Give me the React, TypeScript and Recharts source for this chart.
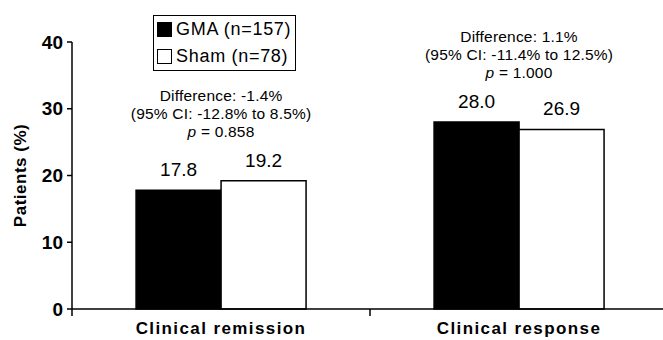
import { BarChart, Bar, XAxis, YAxis, Legend, LabelList } from "recharts";

const categories = ["Clinical remission", "Clinical response"];
const gmaValues = [17.8, 28.0];
const shamValues = [19.2, 26.9];
const diffLines = ["Difference: -1.4%", "Difference: 1.1%"];
const ciLines = ["(95% CI: -12.8% to 8.5%)", "(95% CI: -11.4% to 12.5%)"];
const pValues = ["0.858", "1.000"];
const yTicks = [0, 10, 20, 30, 40];
const seriesNames = ["GMA (n=157)", "Sham (n=78)"];

const FONT = "'Liberation Sans', Arial, sans-serif";

const data = categories.map((c, i) => ({
  name: c,
  gma: gmaValues[i],
  sham: shamValues[i],
}));

function CategoryTick(props: any) {
  const { x, y, payload, width, visibleTicksCount, index } = props;
  const half = width / visibleTicksCount / 2;
  const axisY = y - 12;
  return (
    <g>
      <line x1={x - half} x2={x - half} y1={axisY} y2={axisY + 7} stroke="#000" strokeWidth={1.5} />
      {index === visibleTicksCount - 1 && (
        <line x1={x + half} x2={x + half} y1={axisY} y2={axisY + 7} stroke="#000" strokeWidth={1.5} />
      )}
      <text
        x={x}
        y={y}
        dy="0.75em"
        textAnchor="middle"
        fontFamily={FONT}
        fontSize={17}
        fontWeight="bold"
        letterSpacing={1.4}
        fill="#000"
      >
        {payload.value}
      </text>
    </g>
  );
}

// stats text above each pair of bars, anchored on the taller bar
function Annotation(props: any) {
  const { x, y, width, height, value } = props;
  const i = props.index ?? gmaValues.indexOf(value);
  const v = gmaValues[i];
  const top = Math.max(gmaValues[i], shamValues[i]);
  const base = y + height - (top * height) / v;
  const cx = x + width;
  const common = {
    x: cx,
    textAnchor: "middle" as const,
    fontFamily: FONT,
    fontSize: 15.5,
    letterSpacing: 0.2,
    fill: "#000",
  };
  return (
    <g>
      <text {...common} y={base - 80}>{diffLines[i]}</text>
      <text {...common} y={base - 62}>{ciLines[i]}</text>
      <text {...common} y={base - 44}>
        <tspan fontStyle="italic">p</tspan> = {pValues[i]}
      </text>
    </g>
  );
}

function LegendBox() {
  const row = (fill: string, label: string) => (
    <div style={{ display: "flex", alignItems: "center", height: 27 }}>
      <span
        style={{
          display: "inline-block",
          width: 15,
          height: 15,
          background: fill,
          border: "1px solid #000",
          marginRight: 4,
          boxSizing: "border-box",
        }}
      />
      <span>{label}</span>
    </div>
  );
  return (
    <div
      style={{
        border: "1.5px solid #000",
        padding: "0 4px 0 3px",
        fontFamily: FONT,
        fontSize: 18,
        letterSpacing: 0.7,
        color: "#000",
        background: "#fff",
      }}
    >
      {row("#000", seriesNames[0])}
      {row("#fff", seriesNames[1])}
    </div>
  );
}

export default function App() {
  return (
    <div style={{ position: "absolute", left: 0, top: 0, width: 663, height: 340, overflow: "hidden", background: "#fff" }}>
      <BarChart
        width={668}
        height={340}
        data={data}
        margin={{ top: 42, right: 0, bottom: 1, left: 0 }}
        barGap={0}
        barCategoryGap="21.5%"
      >
        <XAxis
          dataKey="name"
          height={30}
          tickSize={0}
          tickMargin={12}
          axisLine={{ stroke: "#000", strokeWidth: 1.5 }}
          tick={<CategoryTick />}
          interval={0}
        />
        <YAxis
          width={72}
          domain={[0, 40]}
          ticks={yTicks}
          tickSize={5}
          tickMargin={4}
          axisLine={{ stroke: "#000", strokeWidth: 1.5 }}
          tickLine={{ stroke: "#000", strokeWidth: 1.5 }}
          tick={{ fill: "#000", fontSize: 19, fontWeight: "bold", fontFamily: FONT }}
          label={{
            content: ({ viewBox }: any) => {
              const cx = viewBox.x + 20;
              const cy = viewBox.y + viewBox.height / 2;
              return (
                <text
                  x={cx}
                  y={cy}
                  transform={`rotate(-90, ${cx}, ${cy})`}
                  textAnchor="middle"
                  dominantBaseline="central"
                  fontFamily={FONT}
                  fontSize={17}
                  fontWeight="bold"
                  letterSpacing={0.5}
                  fill="#000"
                >
                  Patients (%)
                </text>
              );
            },
          }}
        />
        <Legend
          layout="vertical"
          align="center"
          verticalAlign="middle"
          content={() => <LegendBox />}
          wrapperStyle={{ left: 153, top: 15, width: "auto", height: "auto" }}
        />
        <Bar dataKey="gma" name={seriesNames[0]} fill="#000" stroke="#000" strokeWidth={1.5} isAnimationActive={false}>
          <LabelList dataKey="gma" position="top" offset={14} fill="#000" fontSize={19} fontFamily={FONT} formatter={(v: any) => Number(v).toFixed(1)} />
          <LabelList dataKey="gma" content={<Annotation />} />
        </Bar>
        <Bar dataKey="sham" name={seriesNames[1]} fill="#fff" stroke="#000" strokeWidth={1.5} isAnimationActive={false}>
          <LabelList dataKey="sham" position="top" offset={14} fill="#000" fontSize={19} fontFamily={FONT} formatter={(v: any) => Number(v).toFixed(1)} />
        </Bar>
      </BarChart>
    </div>
  );
}
